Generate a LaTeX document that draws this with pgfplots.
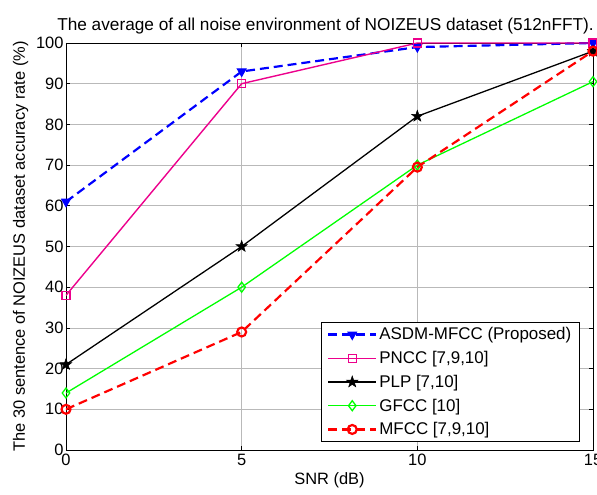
\documentclass[border=0pt]{standalone}
\usepackage{fontspec}
\setmainfont{Liberation Sans}
\usepackage{pgfplots}
\pgfplotsset{compat=1.18}
% filled five-pointed star, like Matlab's 'p' marker
\pgfdeclareplotmark{pentagram}{%
  \pgfpathmoveto{\pgfqpointpolar{90}{\pgfplotmarksize}}%
  \pgfpathlineto{\pgfqpointpolar{126}{0.4\pgfplotmarksize}}%
  \pgfpathlineto{\pgfqpointpolar{162}{\pgfplotmarksize}}%
  \pgfpathlineto{\pgfqpointpolar{198}{0.4\pgfplotmarksize}}%
  \pgfpathlineto{\pgfqpointpolar{234}{\pgfplotmarksize}}%
  \pgfpathlineto{\pgfqpointpolar{270}{0.4\pgfplotmarksize}}%
  \pgfpathlineto{\pgfqpointpolar{306}{\pgfplotmarksize}}%
  \pgfpathlineto{\pgfqpointpolar{342}{0.4\pgfplotmarksize}}%
  \pgfpathlineto{\pgfqpointpolar{18}{\pgfplotmarksize}}%
  \pgfpathlineto{\pgfqpointpolar{54}{0.4\pgfplotmarksize}}%
  \pgfpathclose
  \pgfusepathqfillstroke}
\begin{document}
\begin{tikzpicture}
\begin{axis}[
    scale only axis,
    width=527bp, height=407bp,
    xmin=0, xmax=15, ymin=0, ymax=100,
    xtick={0,5,10,15}, ytick={0,10,...,100},
    grid=major,
    major grid style={gray!55, line width=0.6pt},
    axis line style={line width=0.8pt},
    tick align=inside,
    tick style={black, line width=0.8pt},
    major tick length=4pt,
    /pgf/number format/assume math mode=true,
    ticklabel style={font=\fontsize{16.5}{18}\selectfont},
    xticklabel style={yshift=-1pt},
    yticklabel style={xshift=1pt},
    title={The average of all noise environment of NOIZEUS dataset (512nFFT).},
    title style={font=\fontsize{17.3}{19}\selectfont, yshift=-1pt, xshift=-4bp},
    xlabel={SNR (dB)},
    ylabel={The 30 sentence of NOIZEUS dataset accuracy rate (\%)},
    label style={font=\fontsize{16.5}{18}\selectfont},
    ylabel style={yshift=1pt},
    legend style={at={(rel axis cs:0.975,0.02)}, anchor=south east,
        font=\fontsize{17}{20}\selectfont, draw=black, line width=1.1pt,
        inner xsep=6pt, inner ysep=3pt, row sep=6pt},
    legend cell align=left,
    legend image code/.code={\draw[mark repeat=2, mark phase=2] plot coordinates {(0bp,0bp) (24bp,0bp) (48bp,0bp)};},
]
\addplot[blue, line width=2.2pt, dash pattern=on 9pt off 5pt, mark=triangle*, mark size=5pt, mark options={solid, blue, line width=1pt, rotate=180, fill=blue}] coordinates {
    (0,61) (5,93) (10,99) (15,100)
};
\addlegendentry{ASDM-MFCC (Proposed)}
\addplot[magenta, line width=1.4pt, mark=square, mark size=4pt, mark options={solid, magenta, line width=1.4pt}] coordinates {
    (0,38) (5,90) (10,100) (15,100)
};
\addlegendentry{PNCC [7,9,10]}
\addplot[black, line width=1.3pt, mark=pentagram, mark size=6pt, mark options={solid, black, fill=black, line width=0.5pt}] coordinates {
    (0,21) (5,50) (10,82) (15,98)
};
\addlegendentry{PLP [7,10]}
\addplot[green, line width=1.3pt, mark=diamond, mark size=5pt, mark options={solid, green, line width=1.3pt}] coordinates {
    (0,14) (5,40) (10,70) (15,90.5)
};
\addlegendentry{GFCC [10]}
\addplot[red, line width=2.2pt, dash pattern=on 9pt off 5pt, mark=o, mark size=4.5pt, mark options={solid, red, line width=2.2pt}] coordinates {
    (0,10) (5,29) (10,69.5) (15,98)
};
\addlegendentry{MFCC [7,9,10]}
\end{axis}
\pgfresetboundingbox
\path[use as bounding box] ([xshift=-66bp,yshift=-45bp]current axis.south west) rectangle ([xshift=4bp,yshift=43bp]current axis.north east);
\end{tikzpicture}
\end{document}
